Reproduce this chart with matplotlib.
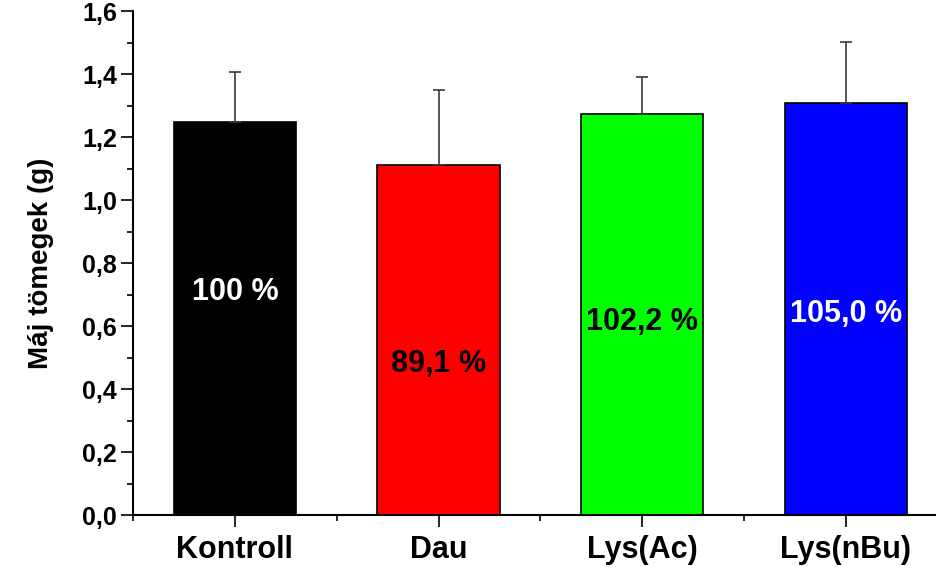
import matplotlib
matplotlib.use('Agg')
from matplotlib import pyplot as plt
from matplotlib.ticker import MultipleLocator, FuncFormatter

plt.rcParams['font.family'] = ['Liberation Sans', 'DejaVu Sans']
plt.rcParams['font.weight'] = 'bold'

groups = ['Kontroll', 'Dau', 'Lys(Ac)', 'Lys(nBu)']
means = [1.247, 1.111, 1.274, 1.309]
errors = [0.160, 0.240, 0.117, 0.192]
pct_labels = ['100 %', '89,1 %', '102,2 %', '105,0 %']
label_y = [0.708, 0.480, 0.614, 0.639]
colors = ['#000000', '#ff0000', '#00ff00', '#0000ff']
text_colors = ['white', 'black', 'black', 'white']

fig = plt.figure(figsize=(9.37, 5.67), dpi=100)
ax = fig.add_axes([0.142, 0.0917, 0.858, 0.8887])

x = list(range(1, len(groups) + 1))
ax.bar(x, means, width=0.6, color=colors, edgecolor='black', linewidth=1.2, zorder=2)
ax.errorbar(x, means, yerr=[[0] * len(errors), errors], fmt='none',
            ecolor='#3a3a3a', elinewidth=1.2, capsize=4.5, capthick=1.2, zorder=3)

for xi, lab, ly, tc in zip(x, pct_labels, label_y, text_colors):
    ax.text(xi, ly, lab, ha='center', va='center', color=tc,
            fontsize=22, fontweight='bold', zorder=4)

ax.set_xlim(0.5, 4.447)
ax.set_ylim(0, 1.6)
ax.set_xticks(x)
ax.set_xticklabels(groups, fontsize=22, fontweight='bold')
ax.xaxis.set_minor_locator(MultipleLocator(1, offset=0.5))
ax.yaxis.set_major_locator(MultipleLocator(0.2))
ax.yaxis.set_minor_locator(MultipleLocator(0.1))
ax.yaxis.set_major_formatter(FuncFormatter(lambda v, p: f'{v:.1f}'.replace('.', ',')))

ax.tick_params(axis='y', which='major', length=8.6, width=1.2, pad=3, labelsize=18)
ax.tick_params(axis='y', which='minor', length=4.3, width=1.2)
ax.tick_params(axis='x', which='major', length=8.6, width=1.2, pad=6)
ax.tick_params(axis='x', which='minor', length=4.3, width=1.2)

ax.spines['top'].set_visible(False)
ax.spines['right'].set_visible(False)
ax.spines['left'].set_linewidth(1.5)
ax.spines['bottom'].set_linewidth(1.5)

ax.set_ylabel('Máj tömegek (g)', fontsize=20, fontweight='bold', labelpad=20)

fig.savefig('out.png', dpi=100)
